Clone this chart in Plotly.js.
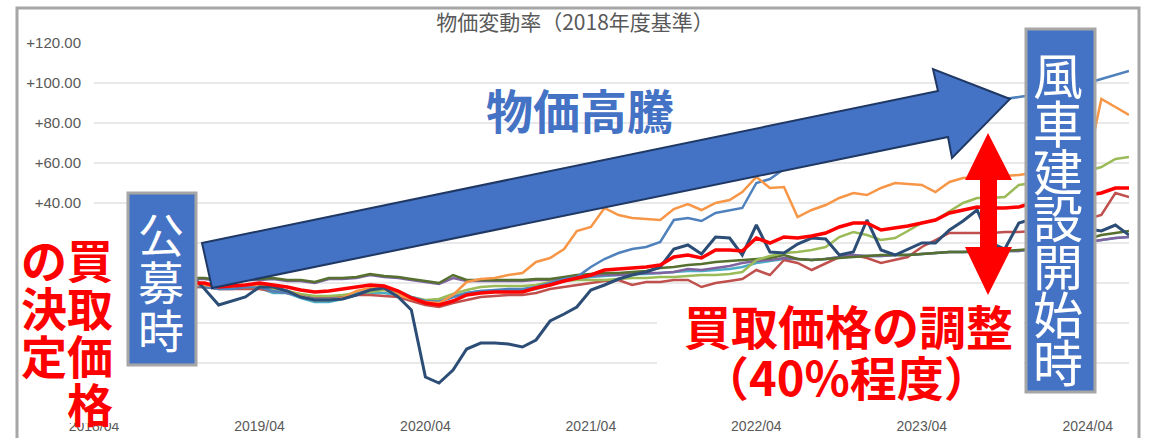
<!DOCTYPE html>
<html>
<head>
<meta charset="utf-8">
<script src="https://cdn.plot.ly/plotly-3.0.1.min.js"></script>
<style>html,body{margin:0;padding:0;background:#fff;}#chart{width:1152px;height:438px;}</style>
</head>
<body>
<div id="chart"></div>
<script>
// ---- data (monthly, 2018/04 .. 2024/07) ----
const startYear = 2018, startMonth = 4, monthCount = 76;
const tickLabels = ['2018/04','2019/04','2020/04','2021/04','2022/04','2023/04','2024/04'];
const yTickVals = [-60,-40,-20,0,20,40,60,80,100,120];
const yTickText = ['-60.00','-40.00','-20.00','0.00','+20.00','+40.00','+60.00','+80.00','+100.00','+120.00'];
const chartTitle = '物価変動率（2018年度基準）';

const navy = [0,1,2,1,2,3,4,4, -3,-11,-9,-7,-2,-2,-4,-7, -8.5,-8.5,-8,-6,-3.5,-2.5,-7,-13.5,
  -47,-50,-43.5,-33,-30,-30,-30.5,-32, -28.5,-19,-15.5,-12,-3.5,-1,2,4, 5.5,8,17,19,14.5,23,22.5,14,
  29,15.5,15,19.5,22.5,22,14,15.5, 31.5,16.5,14,17,20,20,26.5,31, 36.5,20,17,30,32,33,30,28, 27,26,29,24];
const blue = [0,0,-1,-1,-1,-2,-1,-1, -2,-3,-3,-2,-2,-4,-5,-6.5, -8,-8,-7.5,-5.5,-3,-2.5,-4,-7,
  -9,-9.5,-7,-5,-4,-3.5,-3,-3, -2,0,2,3,8,12,15,17, 18,20.5,31.5,32.5,31,35,36.5,37.5,
  50,52,57,60,62,64,66,67, 69,71,73,75,77,79,82,85, 88,90,92,93,94,96,98,99, 100,102,104,106];
const orange = [0,0,-1,0,-1,-1,-1,-1, -1,-2,-1,-1,-1,-2,-4,-6.5, -8.5,-8.5,-7.5,-4,-2.5,-3,-6,-8,
  -9.5,-10,-6,0.5,2,2.5,4,5, 10.5,12.5,17,26,28,37.5,34,32.5, 32,31.5,37,39.5,36.5,40,41.5,45.5,
  53,47.5,48,33,36.5,39,42.5,45, 44,47.5,50,49.5,49,45.5,50.5,52.5, 53,53,53.5,54,55,56,56,57, 60,92,88,84];
const green = [0,0,-1,-1,-1,-2,-2,-1, -1,-2,-2,-2,-2,-3,-4,-5.5, -6.5,-6.5,-6,-5,-4.5,-3.5,-5,-7,
  -8.5,-8,-5.5,-3.5,-2,-1.5,-1.5,-1.5, -1,0.5,1,1.5,1.5,1.5,2,2.5, 2.5,3,3,3.5,4,4,4.5,5.5,
  11.5,13.5,15,15.5,16.5,18,23,25.5, 24,21.5,22.5,26,30,31.5,36,40, 42.5,42.5,43,49,50,52,54,55, 56,58,62,63];
const red = [0,0,1,0,0,-1,0,0, 0,-2,-1.5,-1,0,-1,-2,-3.5, -4.5,-4,-3,-2,-1,-1.5,-4,-7.5,
  -10,-11,-9,-6,-5,-4.5,-4.5,-4.5, -2.5,-1,1,2.5,4,6.5,7,7.5, 8,9,13,14,12.5,16.5,16.5,16,
  22.5,20,23,22.5,23.5,25,28,30, 30,26.5,27.5,28.5,30,31.5,35,36.5, 38,37.5,37.5,38,40,41,42,43, 44,45,47.5,47.5];
const brown = [0,-1,-1,-1,-2,-2,-2,-2, -2,-3,-3,-3,-3,-4,-5,-6, -7,-7,-6.5,-6,-6,-6.5,-7,-9,
  -11,-12,-10,-8.5,-7,-6.5,-6,-6, -5,-3,-2,-1,0,1,1.5,-1, 0.5,0.5,1.5,1.5,-2,0,1,2,
  6.5,4,11.5,10,6.5,10,13,14, 12.5,10,11.5,13,18,21.5,25,25, 25,25,25.5,25.5,26,27,28,30, 32,34,45,43];
const purple = [0,0,1,1,1,1,2,2, 2,1,1,1.5,1.5,2,1,1, 0,2,2,2.5,4,3,2.5,1.5,
  0.5,-0.5,2.5,1,1,1,1,1, 1.5,1.5,2,3,3.5,4,4,4.5, 5,5,5.5,7,6.5,7.5,8.5,10,
  11,11.5,12.5,12,11.5,12,13,14, 13.5,13.5,14,14,14.5,15,15.5,15.5, 15.5,16,16,16,17,18,19,20, 20.5,21.5,22.5,23];
const olive = [0,1,1,1,2,2,2,2.5, 2.5,1.5,1.5,2,2,2.5,1.5,1.5, 0.5,2.5,2.5,3,4.5,3.5,3,2,
  1,0,4,1.5,1.5,1.5,1.5,1.5, 2,2,3,4,4.5,5,5,5.5, 6,7.5,8,9,9.5,10.5,11,11.5,
  12,12.5,14,12,11.5,12,12.5,13, 13.5,14,14,14,14.5,15,15.5,15.5, 16,16,16,16.5,17,18,19,20, 22,24,25,26];
const cyan = [0,0,-1,-1,-1,-2,-2,-2, -2,-2.5,-2.5,-2,-2.5,-5,-5,-7.5, -9.5,-9.5,-8,-6,-5,-5,-6,-8,
  -9,-9,-7,-5,-4,-4,-3.5,-3.5, -3,-1,1,2,3,3.5,4,4.5, 4.5,5,5.5,6,6,6.5,7,8,
  10,11,12,12,11.5,12,13,13.5, 13.5,13.5,14,14,14.5,15,15.5,15.5, 15.5,16,16,16,17,18,19,20, 20.5,21.5,22.5,23];

// annotation texts
const leftRedRight = ['買','取','価','格'];
const leftRedLeft = ['の','決','定'];
const boxLeftText = ['公','募','時'];
const boxRightText = ['風','車','建','設','開','始','時'];
const bigText = '物価高騰';
const redLine1 = '買取価格の調整';
const redLine2 = '（40%程度）';

// ---- build ----
const months = [];
for (let i = 0; i < monthCount; i++) {
  const d = new Date(Date.UTC(startYear, startMonth - 1 + i, 1));
  months.push(d.toISOString().slice(0, 10));
}

const W = 1152, H = 438;
const ML = 94, MR = 23, MT = 43, MB = 35;
const PW = W - ML - MR, PH = H - MT - MB;
const px = x => (x - ML) / PW;
const py = y => (H - MB - y) / PH;

function series(vals, color, width) {
  return {x: months, y: vals, type: 'scatter', mode: 'lines',
    line: {color: color, width: width}, hoverinfo: 'skip', showlegend: false};
}
const traces = [
  series(cyan, '#4bacc6', 2.5),
  series(brown, '#c0504d', 2.5),
  series(purple, '#8064a2', 2.5),
  series(olive, '#55702f', 2.5),
  series(green, '#9bbb59', 2.5),
  series(blue, '#4f81bd', 2.5),
  series(orange, '#f79646', 2.5),
  series(navy, '#2c4d75', 3),
  series(red, '#ff0000', 3.5)
];

function rect(x0, y0, x1, y1, fill, lineColor, lw) {
  return {type: 'rect', xref: 'paper', yref: 'paper', layer: 'above',
    x0: px(x0), x1: px(x1), y0: py(y1), y1: py(y0),
    fillcolor: fill, line: {color: lineColor, width: lw}};
}
function poly(pts, fill, lineColor, lw) {
  const d = pts.map((p, i) => (i ? 'L' : 'M') + px(p[0]) + ',' + py(p[1])).join(' ') + ' Z';
  return {type: 'path', xref: 'paper', yref: 'paper', layer: 'above', path: d,
    fillcolor: fill, line: {color: lineColor, width: lw}};
}

const shapes = [
  rect(17, 8, 1139, 460, 'rgba(0,0,0,0)', '#a6a6a6', 3),
  rect(19, 215, 180, 423, '#ffffff', 'rgba(0,0,0,0)', 0),
  rect(657, 293, 1024, 418, '#ffffff', 'rgba(0,0,0,0)', 0),
  rect(128, 193, 196, 365, '#4472c4', '#a6a6a6', 3),
  rect(1026, 29, 1095, 392, '#4472c4', '#a6a6a6', 3),
  poly([[202,243],[938,91],[933,69],[1010,99],[952,158],[948,137],[212,288]], '#4472c4', '#1f3864', 2),
  poly([[988,133],[1012,180],[997,180],[997,247],[1012,247],[988,295],[965,247],[980,247],[980,180],[965,180]], '#ff0000', 'rgba(0,0,0,0)', 0)
];

const CJK = 'Noto Sans CJK JP';
function ann(text, x, y, size, color, weight) {
  return {text: text, xref: 'paper', yref: 'paper', x: px(x), y: py(y),
    xanchor: 'center', yanchor: 'middle', showarrow: false, borderpad: 0,
    font: {family: CJK, size: size, color: color, weight: weight}};
}
const annotations = [];
boxLeftText.forEach((c, i) => annotations.push(ann(c, 161, 232 + i * 48, 46, '#ffffff', 'normal')));
boxRightText.forEach((c, i) => annotations.push(ann(c, 1058, 73 + i * 47.8, 50, '#ffffff', 'normal')));
leftRedRight.forEach((c, i) => annotations.push(ann(c, 90, 258 + i * 48, 46, '#ff0000', 'bold')));
leftRedLeft.forEach((c, i) => annotations.push(ann(c, 44, 258 + i * 48, 46, '#ff0000', 'bold')));
annotations.push(ann(bigText, 580, 108, 47, '#4472c4', 'bold'));
annotations.push(ann(redLine1, 848, 324, 47, '#ff0000', 'bold'));
annotations.push(ann(redLine2, 846, 375, 47, '#ff0000', 'bold'));

const layout = {
  width: W, height: H,
  margin: {l: ML, r: MR, t: MT, b: MB},
  paper_bgcolor: '#ffffff', plot_bgcolor: '#ffffff',
  showlegend: false,
  title: {text: chartTitle, x: 575 / W, xanchor: 'center', xref: 'container',
    y: 1 - 23 / H, yanchor: 'middle', yref: 'container',
    font: {family: CJK, size: 21, color: '#595959'}},
  xaxis: {type: 'date', range: [months[0], months[monthCount - 1]],
    tickmode: 'array', tickvals: tickLabels.map(t => t.replace('/', '-') + '-01'), ticktext: tickLabels,
    showgrid: false, zeroline: false, showline: false, ticks: '',
    tickfont: {family: 'Liberation Sans', size: 14, color: '#595959'}, ticklabelstandoff: 13},
  yaxis: {range: [-60, 120], tickmode: 'array', tickvals: yTickVals, ticktext: yTickText,
    showgrid: true, gridcolor: '#e9e9e9', gridwidth: 2, zeroline: false, showline: false, ticks: '',
    tickfont: {family: 'Liberation Sans', size: 15, color: '#595959'}, ticklabelstandoff: 12},
  shapes: shapes,
  annotations: annotations
};

Plotly.newPlot('chart', traces, layout, {staticPlot: true, displayModeBar: false});
</script>
</body>
</html>
